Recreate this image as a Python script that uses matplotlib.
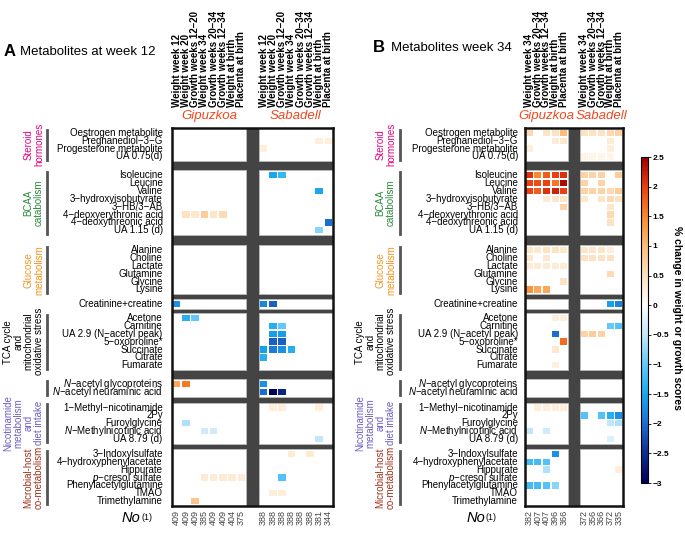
import matplotlib
matplotlib.use("Agg")
import matplotlib.pyplot as plt
from matplotlib.colors import LinearSegmentedColormap, Normalize
from matplotlib.patches import Rectangle
from matplotlib.transforms import blended_transform_factory as blend
import matplotlib.cm as cm

plt.rcParams['font.family'] = ['Liberation Sans', 'DejaVu Sans']
plt.rcParams['mathtext.fontset'] = 'custom'
plt.rcParams['mathtext.it'] = 'Liberation Sans:italic'
plt.rcParams['mathtext.rm'] = 'Liberation Sans'

# ---- data ----
groups = ["Steroid\nhormones", "BCAA\ncatabolism", "Glucose\nmetabolism", "",
          "TCA cycle\nand\nmitochondrial\noxidative stress", "",
          "Nicotinamide\nmetabolism\nand\ndiet intake", "Microbial-host\nco-metabolism"]
group_colors = ["#e4007c", "#2b8a3e", "#f7941d", "black", "black", "black",
                "#6f5fc4", "#a3301c"]
metabolites = [
    ["Oestrogen metabolite", "Pregnanediol−3−G", "Progesterone metabolite", "UA 0.75(d)"],
    ["Isoleucine", "Leucine", "Valine", "3−hydroxyisobutyrate", "3−HB/3−AB",
     "4−deoxyerythronic acid", "4−deoxythreonic acid", "UA 1.15 (d)"],
    ["Alanine", "Choline", "Lactate", "Glutamine", "Glycine", "Lysine"],
    ["Creatinine+creatine"],
    ["Acetone", "Carnitine", "UA 2.9 (N−acetyl peak)", "5−oxoproline*", "Succinate",
     "Citrate", "Fumarate"],
    ["$N$−acetyl glycoproteins", "$N$−acetyl neuraminic acid"],
    ["1−Methyl−nicotinamide", "2Py", "Furoylglycine", "$N$−Methylnicotinic acid", "UA 8.79 (d)"],
    ["3−Indoxylsulfate", "4−hydroxyphenylacetate", "Hippurate", "$p$−cresol sulfate",
     "Phenylacetylglutamine", "TMAO", "Trimethylamine"],
]

cols_a = ["Weight week 12", "Weight week 20", "Growth weeks 12–20", "Weight week 34",
          "Growth weeks 20–34", "Growth weeks 12–34", "Weight at birth", "Placenta at birth"]
cols_b = ["Weight week 34", "Growth weeks 20–34", "Growth weeks 12–34", "Weight at birth",
          "Placenta at birth"]

n_a_gip = [409, 409, 409, 385, 409, 409, 404, 375]
n_a_sab = [388, 388, 388, 388, 388, 388, 381, 344]
n_b_gip = [382, 407, 407, 396, 366]
n_b_sab = [372, 356, 366, 372, 335]

# (metabolite, column index, % change)
a_gip = [
    ("4−deoxyerythronic acid", 1, 0.5), ("4−deoxyerythronic acid", 2, 0.4),
    ("4−deoxyerythronic acid", 3, 0.8), ("4−deoxyerythronic acid", 4, 0.45),
    ("4−deoxyerythronic acid", 5, 0.6),
    ("Creatinine+creatine", 0, -1.7),
    ("Acetone", 1, -1.4), ("Acetone", 2, -1.0),
    ("$N$−acetyl glycoproteins", 0, 1.2), ("$N$−acetyl glycoproteins", 1, 1.6),
    ("Furoylglycine", 1, -0.6),
    ("$N$−Methylnicotinic acid", 3, -0.4), ("$N$−Methylnicotinic acid", 4, -0.4),
    ("$p$−cresol sulfate", 3, 0.35), ("$p$−cresol sulfate", 4, 0.35),
    ("$p$−cresol sulfate", 5, 0.35), ("$p$−cresol sulfate", 6, 0.35),
    ("$p$−cresol sulfate", 7, 0.35),
    ("Trimethylamine", 2, 0.9),
]
a_sab = [
    ("Pregnanediol−3−G", 6, 0.3), ("Pregnanediol−3−G", 7, 0.3),
    ("Progesterone metabolite", 0, 0.3),
    ("Isoleucine", 1, -1.5), ("Isoleucine", 2, -1.3),
    ("Valine", 6, -1.5),
    ("4−deoxythreonic acid", 7, -2.0),
    ("UA 1.15 (d)", 6, -0.8),
    ("Creatinine+creatine", 0, -1.8), ("Creatinine+creatine", 1, -2.1),
    ("Carnitine", 1, -1.4), ("Carnitine", 2, -1.0),
    ("UA 2.9 (N−acetyl peak)", 1, -1.6), ("UA 2.9 (N−acetyl peak)", 2, -1.6),
    ("5−oxoproline*", 1, -2.1), ("5−oxoproline*", 2, -2.1),
    ("Succinate", 0, -1.6), ("Succinate", 1, -1.9), ("Succinate", 2, -1.7),
    ("Succinate", 3, -1.4),
    ("Citrate", 0, -1.4),
    ("$N$−acetyl glycoproteins", 0, -1.7),
    ("$N$−acetyl neuraminic acid", 0, -2.0), ("$N$−acetyl neuraminic acid", 1, -3.0),
    ("$N$−acetyl neuraminic acid", 2, -2.6),
    ("1−Methyl−nicotinamide", 1, 0.3), ("1−Methyl−nicotinamide", 2, 0.3),
    ("1−Methyl−nicotinamide", 6, 0.3),
    ("UA 8.79 (d)", 6, -0.5),
    ("3−Indoxylsulfate", 3, 0.35), ("3−Indoxylsulfate", 5, 0.35),
    ("$p$−cresol sulfate", 2, -1.1),
    ("TMAO", 1, 0.3), ("TMAO", 2, 0.3),
]
b_gip = [
    ("Oestrogen metabolite", 0, 0.6), ("Oestrogen metabolite", 2, 0.45),
    ("Oestrogen metabolite", 3, 0.5), ("Oestrogen metabolite", 4, 1.0),
    ("Pregnanediol−3−G", 3, 0.35), ("Pregnanediol−3−G", 4, 0.4),
    ("Progesterone metabolite", 0, 0.3),
    ("Isoleucine", 0, 2.1), ("Isoleucine", 1, 1.5), ("Isoleucine", 2, 1.8),
    ("Isoleucine", 3, 2.0), ("Isoleucine", 4, 2.1),
    ("Leucine", 0, 2.0), ("Leucine", 1, 1.9), ("Leucine", 2, 2.0),
    ("Leucine", 3, 1.6), ("Leucine", 4, 2.4),
    ("Valine", 0, 2.0), ("Valine", 1, 1.8), ("Valine", 2, 2.1),
    ("Valine", 3, 2.2), ("Valine", 4, 2.0),
    ("3−hydroxyisobutyrate", 2, 0.35), ("3−hydroxyisobutyrate", 3, 0.4),
    ("3−hydroxyisobutyrate", 4, 0.45),
    ("3−HB/3−AB", 4, 0.7),
    ("Alanine", 0, 0.45), ("Alanine", 1, 0.4), ("Alanine", 2, 0.5),
    ("Alanine", 3, 0.5), ("Alanine", 4, 0.4),
    ("Choline", 0, 0.4), ("Choline", 2, 0.4),
    ("Lactate", 0, 0.35), ("Lactate", 1, 0.35), ("Lactate", 2, 0.35),
    ("Lactate", 3, 0.35), ("Lactate", 4, 0.35),
    ("Glycine", 4, 0.5),
    ("Lysine", 0, 1.4), ("Lysine", 1, 1.2), ("Lysine", 2, 1.2),
    ("Acetone", 3, 0.3), ("Acetone", 4, 0.3),
    ("UA 2.9 (N−acetyl peak)", 3, -2.0),
    ("5−oxoproline*", 4, 1.7),
    ("Succinate", 3, 0.4),
    ("Fumarate", 3, 0.25),
    ("1−Methyl−nicotinamide", 1, 0.3), ("1−Methyl−nicotinamide", 2, 0.3),
    ("1−Methyl−nicotinamide", 3, 0.3), ("1−Methyl−nicotinamide", 4, 0.3),
    ("$N$−Methylnicotinic acid", 0, -0.5), ("$N$−Methylnicotinic acid", 2, -0.4),
    ("3−Indoxylsulfate", 3, -1.7),
    ("4−hydroxyphenylacetate", 0, -1.2), ("4−hydroxyphenylacetate", 1, -1.2),
    ("4−hydroxyphenylacetate", 2, -1.1),
    ("Hippurate", 2, -0.6),
    ("Phenylacetylglutamine", 0, -1.2), ("Phenylacetylglutamine", 1, -1.2),
    ("Phenylacetylglutamine", 2, -1.1), ("Phenylacetylglutamine", 3, -0.8),
]
b_sab = [
    ("Oestrogen metabolite", 0, 0.5), ("Oestrogen metabolite", 1, 0.5),
    ("Oestrogen metabolite", 2, 0.5), ("Oestrogen metabolite", 3, 0.6),
    ("Oestrogen metabolite", 4, 0.7),
    ("Pregnanediol−3−G", 3, 0.35),
    ("Progesterone metabolite", 3, 0.3),
    ("UA 0.75(d)", 0, 0.2), ("UA 0.75(d)", 1, 0.2), ("UA 0.75(d)", 2, 0.2),
    ("UA 0.75(d)", 3, 0.2),
    ("Isoleucine", 0, 0.7), ("Isoleucine", 1, 0.7), ("Isoleucine", 2, 0.7),
    ("Isoleucine", 4, 0.8),
    ("Leucine", 0, 0.7), ("Leucine", 2, 0.7),
    ("Valine", 0, 0.7), ("Valine", 1, 0.7), ("Valine", 2, 0.7),
    ("Valine", 3, 0.6), ("Valine", 4, 0.8),
    ("3−hydroxyisobutyrate", 0, 0.4), ("3−hydroxyisobutyrate", 2, 0.45),
    ("3−hydroxyisobutyrate", 3, 0.6), ("3−hydroxyisobutyrate", 4, 0.5),
    ("3−HB/3−AB", 3, 0.4),
    ("4−deoxyerythronic acid", 3, 0.6),
    ("4−deoxythreonic acid", 3, 0.5),
    ("Alanine", 0, 0.45), ("Alanine", 1, 0.45), ("Alanine", 2, 0.45),
    ("Alanine", 3, 0.3),
    ("Choline", 0, 0.5), ("Choline", 1, 0.5), ("Choline", 2, 0.5), ("Choline", 3, 0.5),
    ("Glutamine", 3, 0.6),
    ("Creatinine+creatine", 3, -1.6), ("Creatinine+creatine", 4, -1.8),
    ("Carnitine", 3, -1.0), ("Carnitine", 4, -1.1),
    ("UA 2.9 (N−acetyl peak)", 0, 0.7), ("UA 2.9 (N−acetyl peak)", 1, 0.8),
    ("UA 2.9 (N−acetyl peak)", 2, 0.7),
    ("2Py", 0, -1.1), ("2Py", 2, -1.1), ("2Py", 3, -1.4), ("2Py", 4, -1.7),
    ("Furoylglycine", 3, -0.5), ("Furoylglycine", 4, -0.6),
    ("UA 8.79 (d)", 3, -0.3),
    ("Hippurate", 4, 0.3),
]

cb_ticks = [2.5, 2, 1.5, 1, 0.5, 0, -0.5, -1, -1.5, -2, -2.5, -3]

# ---- layout ----
W, H = 685, 533
GAPS = [1.14, 1.27, 0.64, 0.51, 1.14, 0.76, 0.64]
PAD = 0.12
SEP = 1.4

blocks, centers = [], {}
y = 0
for g, names in enumerate(metabolites):
    top = y
    for i, nm in enumerate(names):
        centers[nm] = top + PAD + i + 0.5
    bot = top + 2 * PAD + len(names)
    blocks.append((top, bot))
    y = bot + (GAPS[g] if g < len(GAPS) else 0)
total = y

stops = [(-3, "#00005c"), (-2.5, "#0c2f90"), (-2, "#1b6fd2"), (-1.5, "#19a9f0"),
         (-1, "#62c9fa"), (-0.5, "#c2e7fb"), (0, "#ffffff"), (0.5, "#fde2c2"),
         (1, "#fcbd7c"), (1.5, "#f98a2b"), (2, "#ef3f10"), (2.5, "#9c0000")]
cmap = LinearSegmentedColormap.from_list("pc", [((v + 3) / 5.5, c) for v, c in stops])
norm = Normalize(-3, 2.5)

fig = plt.figure(figsize=(W / 100, H / 100), dpi=100)


def draw_panel(px_left, px_right, cols, n_gip, n_sab, cells_gip, cells_sab,
               label_off, bar_x, glabel_x):
    ax = fig.add_axes([px_left / W, 1 - 506 / H, (px_right - px_left) / W, 378 / H])
    ng = len(cols)
    xs = ng + SEP
    ax.set_xlim(0, xs + ng)
    ax.set_ylim(total, 0)
    ax.set_facecolor("#444444")
    ax.set_xticks([])
    ax.set_yticks([])
    for s in ax.spines.values():
        s.set_linewidth(1.8)
        s.set_color("#111111")
    for top, bot in blocks:
        for x0 in (0, xs):
            ax.add_patch(Rectangle((x0, top), ng, bot - top, fc="white",
                                   ec="#bbbbbb", lw=0.6))
    for x0, cells in ((0, cells_gip), (xs, cells_sab)):
        for nm, c, v in cells:
            ax.add_patch(Rectangle((x0 + c + 0.1, centers[nm] - 0.4), 0.8, 0.8,
                                   fc=cmap(norm(v)), ec="none"))
    for nm, yc in centers.items():
        ax.text(-label_off, yc, nm, ha="right", va="center", fontsize=7)
    tr = blend(ax.transData, ax.transAxes)
    for x0, ns in ((0, n_gip), (xs, n_sab)):
        for i, c in enumerate(cols):
            ax.text(x0 + i + 0.5, 1.056, c, rotation=90, ha="center", va="bottom",
                    fontsize=7, fontweight="bold", transform=tr)
            ax.text(x0 + i + 0.5, -0.01, str(ns[i]), rotation=90, ha="center",
                    va="top", fontsize=6.5, color="#444444", transform=tr)
    ax.text(ng / 2, 1.032, "Gipuzkoa", ha="center", va="center", fontsize=9.5,
            style="italic", color="#f2461d", transform=tr)
    ax.text(xs + ng / 2, 1.032, "Sabadell", ha="center", va="center", fontsize=9.5,
            style="italic", color="#f2461d", transform=tr)
    tf = blend(fig.transFigure, ax.transData)
    for g, (top, bot) in enumerate(blocks):
        if g != 3:
            ax.plot([bar_x / W] * 2, [top + 0.2, bot - 0.2], color="#555555", lw=2,
                    transform=tf, clip_on=False)
        if groups[g]:
            ax.text(glabel_x / W, (top + bot) / 2, groups[g], rotation=90,
                    ha="right", va="center", multialignment="center", fontsize=7,
                    color=group_colors[g], transform=tf, linespacing=1.05)
    return ax


draw_panel(172, 333, cols_a, n_a_gip, n_a_sab, a_gip, a_sab, 1.0, 47, 44)
draw_panel(525, 623, cols_b, n_b_gip, n_b_sab, b_gip, b_sab, 0.8, 400, 396)

# titles
fig.text(4 / W, 1 - 52 / H, "A", fontsize=12, fontweight="bold", va="center")
fig.text(20 / W, 1 - 52 / H, "Metabolites at week 12", fontsize=9.5, va="center")
fig.text(373 / W, 1 - 48 / H, "B", fontsize=12, fontweight="bold", va="center")
fig.text(391 / W, 1 - 48 / H, "Metabolites week 34", fontsize=9.5, va="center")

for x0 in (122, 467):
    fig.text(x0 / W, 1 - 518 / H, "No", fontsize=10.5, style="italic", va="center")
    fig.text((x0 + 19) / W, 1 - 518 / H, "(1)", fontsize=6.5, va="center")

# colorbar
cax = fig.add_axes([641 / W, 1 - 483 / H, 7 / W, 326 / H])
cb = fig.colorbar(cm.ScalarMappable(norm=norm, cmap=cmap), cax=cax)
cb.set_ticks(cb_ticks)
cb.set_ticklabels([f"{t:g}".replace("-", "−") for t in cb_ticks])
cb.ax.tick_params(labelsize=6, length=2, width=0.6, pad=1.5)
for lab in cb.ax.get_yticklabels():
    lab.set_fontweight("bold")
cb.outline.set_linewidth(0.8)
fig.text(677 / W, 1 - 318 / H, "% change in weight or growth scores", rotation=270,
         ha="center", va="center", fontsize=7.5, fontweight="bold")

fig.savefig("out.png", dpi=100)
